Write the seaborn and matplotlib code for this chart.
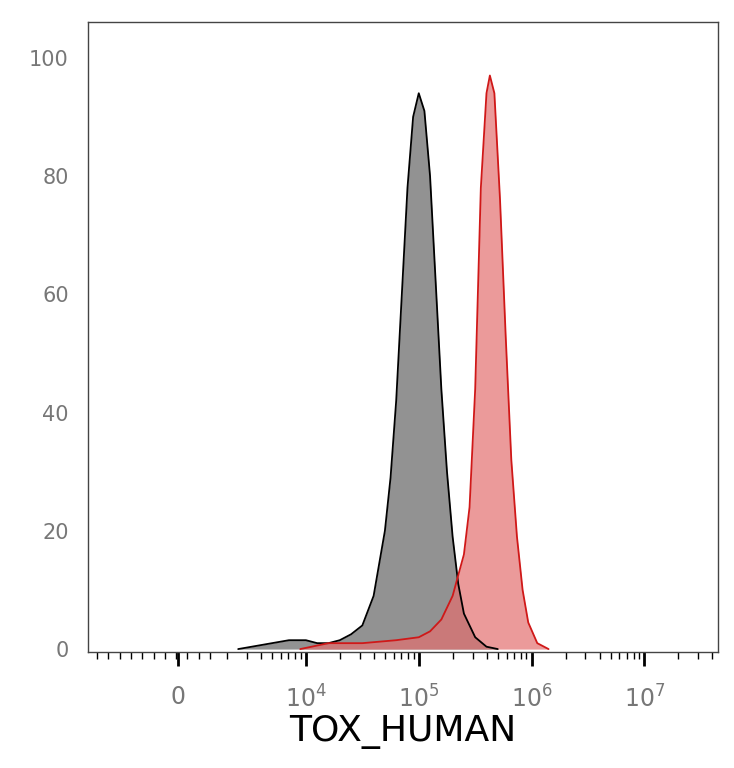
import numpy as np
import pandas as pd
import seaborn as sns
import matplotlib
matplotlib.use("Agg")
import matplotlib.pyplot as plt

# x values are log10 fluorescence intensity
gray_x = [3.4, 3.55, 3.7, 3.85, 4.0, 4.1, 4.2, 4.3, 4.4, 4.5, 4.6, 4.7, 4.75, 4.8, 4.85, 4.9, 4.95, 5.0,
          5.05, 5.1, 5.15, 5.2, 5.25, 5.3, 5.35, 5.4, 5.5, 5.6, 5.7]
gray_y = [0, 0.5, 1, 1.5, 1.5, 1, 1, 1.5, 2.5, 4, 9, 20, 29, 42, 60, 78, 90, 94,
          91, 80, 62, 44, 30, 19, 11, 6, 2, 0.4, 0]
red_x = [3.95, 4.2, 4.5, 4.8, 5.0, 5.1, 5.2, 5.3, 5.4, 5.45, 5.5, 5.55, 5.6, 5.63, 5.67,
         5.72, 5.77, 5.82, 5.87, 5.92, 5.97, 6.05, 6.15]
red_y = [0, 1, 1, 1.5, 2, 3, 5, 9, 16, 24, 44, 78, 94, 97, 94,
         76, 53, 32, 19, 10, 4.5, 1, 0]
xtick_pos = [2.87, 4, 5, 6, 7]
xtick_labels = ["0", "$10^{4}$", "$10^{5}$", "$10^{6}$", "$10^{7}$"]
yticks = [0, 20, 40, 60, 80, 100]

sns.set_style("white")
fig = plt.figure(figsize=(7.34, 7.68), dpi=100)
ax = fig.add_axes([0.12, 0.151, 0.858, 0.82])

g = pd.DataFrame({"x": gray_x, "y": gray_y})
r = pd.DataFrame({"x": red_x, "y": red_y})
ax.fill_between(g["x"], g["y"], color="#7f7f7f", alpha=0.85, lw=0)
ax.fill_between(r["x"], r["y"], color="#e36f6f", alpha=0.7, lw=0)
sns.lineplot(data=g, x="x", y="y", ax=ax, color="black", lw=1.3)
sns.lineplot(data=r, x="x", y="y", ax=ax, color="#d01818", lw=1.3)

ax.set_xlim(2.07, 7.65)
ax.set_ylim(-0.5, 106)
ax.set_xticks(xtick_pos)
ax.set_xticklabels(xtick_labels, fontsize=17, color="#777777")
minor = []
for d in range(2, 8):
    for m in range(2, 10):
        v = d + np.log10(m)
        if 3.2 < v < 7.65:
            minor.append(v)
minor += list(np.arange(2.15, 3.2, 0.1))
ax.set_xticks(minor, minor=True)
ax.tick_params(axis="x", which="major", length=10, width=2, color="black", pad=14, direction="out", bottom=True)
ax.tick_params(axis="x", which="minor", length=5, width=1, color="black", bottom=True)
ax.set_yticks(yticks)
ax.set_yticklabels([str(v) for v in yticks], fontsize=15, color="#777777")
ax.tick_params(axis="y", length=0, pad=14)
for s in ax.spines.values():
    s.set_color("#444444")
    s.set_linewidth(1)
ax.set_xlabel("TOX_HUMAN", fontsize=26, color="black", labelpad=2)
ax.set_ylabel("")
fig.savefig("out.png", dpi=100)
